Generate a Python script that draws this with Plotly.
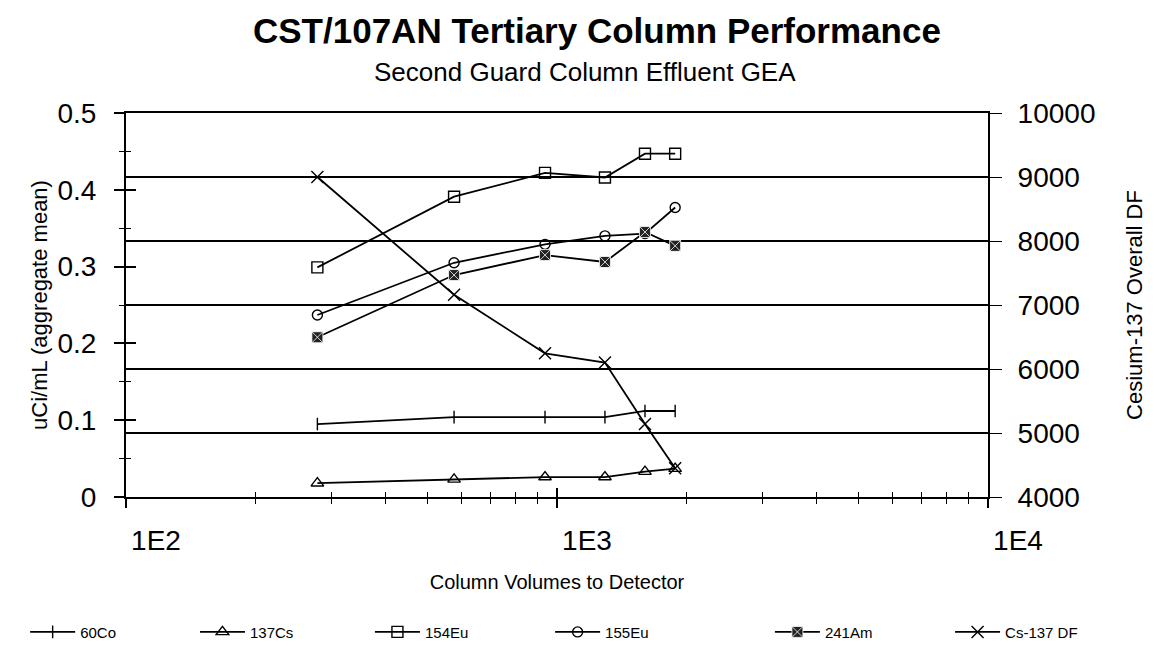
import plotly.graph_objects as go

# ---- data ----
column_volumes = [278, 577, 938, 1292, 1600, 1880]
co60 = [0.095, 0.104, 0.104, 0.104, 0.112, 0.112]
cs137 = [0.018, 0.023, 0.026, 0.026, 0.033, 0.037]
eu154 = [0.299, 0.391, 0.422, 0.416, 0.447, 0.447]
eu155 = [0.237, 0.305, 0.329, 0.340, 0.343, 0.377]
am241 = [0.208, 0.289, 0.315, 0.306, 0.345, 0.327]
cs137_df = [9000, 7160, 6245, 6100, 5140, 4450]

x_major = [100, 1000, 10000]
x_major_text = ["1E2", "1E3", "1E4"]
x_minor = [200, 300, 400, 500, 600, 700, 800, 900,
           2000, 3000, 4000, 5000, 6000, 7000, 8000, 9000]
left_ticks = [0, 0.1, 0.2, 0.3, 0.4, 0.5]
left_ticktext = ["0", "0.1", "0.2", "0.3", "0.4", "0.5"]
left_minor = [0.05, 0.15, 0.25, 0.35, 0.45]
right_ticks = [4000, 5000, 6000, 7000, 8000, 9000, 10000]
right_ticktext = ["4000", "5000", "6000", "7000", "8000", "9000", "10000"]

FONT = "Liberation Sans, Arial, sans-serif"
BLACK = "black"

fig = go.Figure()

series = [
    ("60Co", co60, dict(symbol="line-ns-open", size=9, color=BLACK, line=dict(width=1.4, color=BLACK)), "y"),
    ("137Cs", cs137, dict(symbol="triangle-up-open", size=11, color=BLACK, line=dict(width=1.4, color=BLACK)), "y"),
    ("154Eu", eu154, dict(symbol="square-open", size=11, color=BLACK, line=dict(width=1.4, color=BLACK)), "y"),
    ("155Eu", eu155, dict(symbol="circle-open", size=10, color=BLACK, line=dict(width=1.4, color=BLACK)), "y"),
    ("241Am", am241, dict(symbol="square-x", size=11, color="#222222", line=dict(width=0.8, color="white")), "y"),
    ("Cs-137 DF", cs137_df, dict(symbol="x-thin-open", size=12, color=BLACK, line=dict(width=1.4, color=BLACK)), "y2"),
]
# left edge of each legend entry, in paper units
legend_x = [-0.117, 0.080, 0.283, 0.492, 0.747, 0.956]

legend_names = ["legend", "legend2", "legend3", "legend4", "legend5", "legend6"]
for (name, vals, marker, yax), lg in zip(series, legend_names):
    fig.add_trace(go.Scatter(
        x=column_volumes, y=vals, name=name, mode="lines+markers",
        line=dict(color=BLACK, width=1.8), marker=marker, yaxis=yax, legend=lg,
    ))

tickfont = dict(family=FONT, size=28, color=BLACK)

legend_layout = {}
for lg, lx in zip(legend_names, legend_x):
    legend_layout[lg] = dict(
        orientation="h", x=lx, xanchor="left", y=-0.352, yanchor="middle",
        font=dict(family=FONT, size=15, color=BLACK),
        itemwidth=45, bgcolor="rgba(0,0,0,0)", borderwidth=0,
    )

fig.update_layout(
    width=1154, height=665,
    paper_bgcolor="white", plot_bgcolor="white",
    margin=dict(l=118, r=174, t=105, b=176),
    font=dict(family=FONT, color=BLACK),
    showlegend=True,
    annotations=[
        dict(text="<b>CST/107AN Tertiary Column Performance</b>", xref="paper", yref="paper",
             x=0.5464, y=1.216, xanchor="center", yanchor="middle", showarrow=False,
             font=dict(family=FONT, size=35, color=BLACK)),
        dict(text="Second Guard Column Effluent GEA", xref="paper", yref="paper",
             x=0.5325, y=1.107, xanchor="center", yanchor="middle", showarrow=False,
             font=dict(family=FONT, size=26, color=BLACK)),
    ],
    xaxis=dict(
        type="log", range=[2, 4], showgrid=False, zeroline=False,
        showline=True, linecolor=BLACK, linewidth=2, mirror=True,
        tickvals=x_major, ticktext=x_major_text, ticks="outside",
        ticklen=9, tickwidth=1.5, tickcolor=BLACK, tickfont=tickfont,
        ticklabelshift=30, ticklabelstandoff=8,
        minor=dict(tickvals=x_minor, ticks="outside", ticklen=5, tickwidth=1, tickcolor=BLACK, showgrid=False),
        title=dict(text="Column Volumes to Detector", font=dict(family=FONT, size=20, color=BLACK), standoff=20),
    ),
    xaxis2=dict(
        type="log", range=[2, 4], overlaying="x", side="bottom", anchor="y",
        showgrid=False, zeroline=False, showline=False, showticklabels=False,
        tickvals=x_major, ticks="inside", ticklen=9, tickwidth=1.5, tickcolor=BLACK,
        minor=dict(tickvals=x_minor, ticks="inside", ticklen=5, tickwidth=1, tickcolor=BLACK, showgrid=False),
    ),
    yaxis=dict(
        range=[0, 0.5], showgrid=False, zeroline=False,
        showline=True, linecolor=BLACK, linewidth=2,
        tickvals=left_ticks, ticktext=left_ticktext, ticks="outside",
        ticklen=10, tickwidth=1.5, tickcolor=BLACK, tickfont=tickfont,
        ticklabelstandoff=12,
        minor=dict(tickvals=left_minor, ticks="outside", ticklen=5, tickwidth=1, tickcolor=BLACK, showgrid=False),
        title=dict(text="uCi/mL (aggregate mean)", font=dict(family=FONT, size=22, color=BLACK), standoff=4),
    ),
    yaxis2=dict(
        range=[4000, 10000], overlaying="y", side="right", anchor="x",
        showgrid=True, gridcolor=BLACK, gridwidth=1.5, zeroline=False,
        showline=True, linecolor=BLACK, linewidth=2,
        tickvals=right_ticks, ticktext=right_ticktext, ticks="outside",
        ticklen=12, tickwidth=1.4, tickcolor=BLACK, tickfont=tickfont,
        ticklabelstandoff=10,
        title=dict(text="Cesium-137 Overall DF", font=dict(family=FONT, size=22, color=BLACK), standoff=32),
    ),
    yaxis3=dict(
        range=[0, 0.5], overlaying="y", side="left", anchor="x",
        showgrid=False, zeroline=False, showline=False, showticklabels=False,
        tickvals=left_ticks, ticks="inside", ticklen=10, tickwidth=1.5, tickcolor=BLACK,
        minor=dict(tickvals=left_minor, ticks="inside", ticklen=5, tickwidth=1, tickcolor=BLACK, showgrid=False),
    ),
    **legend_layout,
)

# invisible helper trace so the overlay tick axes are drawn
fig.add_trace(go.Scatter(x=[column_volumes[0]], y=[co60[0]], xaxis="x2", yaxis="y3",
                         mode="markers", marker=dict(opacity=0), showlegend=False, hoverinfo="skip"))

fig.write_html("out.html")
